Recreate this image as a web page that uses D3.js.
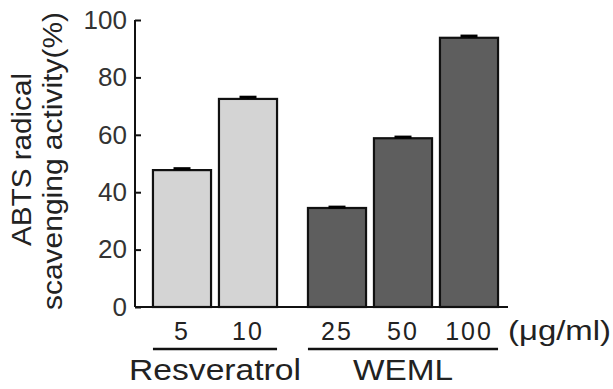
<!DOCTYPE html>
<html>
<head>
<meta charset="utf-8">
<script src="https://cdnjs.cloudflare.com/ajax/libs/d3/7.8.5/d3.min.js"></script>
<style>
body { margin: 0; background: #fff; }
text { font-family: "Liberation Sans", Arial, sans-serif; fill: #222; }
</style>
</head>
<body>
<script>
var w = 613, h = 389;

// data
var doses = ["5", "10", "25", "50", "100"];
var groups = ["Resveratrol", "Resveratrol", "WEML", "WEML", "WEML"];
var values = [47.7, 72.5, 34.5, 58.8, 93.8];
var errors = [0.5, 0.6, 0.3, 0.4, 0.6];
var yTicks = [0, 20, 40, 60, 80, 100];
var groupNames = ["Resveratrol", "WEML"];
var fills = { "Resveratrol": "#d4d4d4", "WEML": "#5e5e5e" };
var groupLen = { "Resveratrol": 172, "WEML": 100 };

var svg = d3.select("body").append("svg")
	.attr("width", w)
	.attr("height", h);

var y = d3.scaleLinear().domain([0, 100]).range([307, 20]);

var x = d3.scaleBand().domain(doses)
	.range([149, 479])
	.paddingInner(0.12).paddingOuter(0.06);
var groupGap = 23;

function bx(d, i) {
	return x(d) + (groups[i] == "WEML" ? groupGap : 0);
}

// bars
svg.append("g").selectAll("rect")
	.data(doses)
	.enter()
	.append("rect")
	.attr("x", function(d, i) { return bx(d, i); })
	.attr("y", function(d, i) { return y(values[i]); })
	.attr("width", x.bandwidth())
	.attr("height", function(d, i) { return y(0) - y(values[i]); })
	.style("fill", function(d, i) { return fills[groups[i]]; })
	.style("stroke", "#111")
	.style("stroke-width", 2.2);

// error bars
var eb = svg.append("g");
doses.forEach(function(d, i) {
	var cx = bx(d, i) + x.bandwidth() / 2;
	eb.append("line")
		.attr("x1", cx).attr("x2", cx)
		.attr("y1", y(values[i])).attr("y2", y(values[i] + errors[i]))
		.style("stroke", "#000").style("stroke-width", 2);
	eb.append("line")
		.attr("x1", cx - 8.5).attr("x2", cx + 8.5)
		.attr("y1", y(values[i] + errors[i])).attr("y2", y(values[i] + errors[i]))
		.style("stroke", "#000").style("stroke-width", 3);
});

// y axis
var yAxis = d3.axisLeft(y).tickValues(yTicks).tickSize(-6).tickPadding(14);
var gy = svg.append("g")
	.attr("transform", "translate(135,0)")
	.call(yAxis);
gy.select(".domain").attr("d", "M0," + y(100) + "V" + y(0)).style("stroke", "#111").style("stroke-width", 2);
gy.selectAll(".tick line").style("stroke", "#111").style("stroke-width", 2);
gy.selectAll(".tick text")
	.attr("x", -8)
	.style("font-size", "26px")
	.style("font-family", "Liberation Sans, Arial, sans-serif")
	.style("fill", "#333");

// x axis baseline
svg.append("line")
	.attr("x1", 135).attr("x2", 508)
	.attr("y1", y(0)).attr("y2", y(0))
	.style("stroke", "#111").style("stroke-width", 2);

// dose labels
svg.append("g").selectAll("text")
	.data(doses)
	.enter()
	.append("text")
	.attr("x", function(d, i) { return bx(d, i) + x.bandwidth() / 2; })
	.attr("y", 340)
	.attr("text-anchor", "middle")
	.style("font-size", "25px")
	.style("letter-spacing", "2px")
	.text(function(d) { return d; });

svg.append("text")
	.attr("x", 508).attr("y", 340)
	.attr("textLength", 103)
	.attr("lengthAdjust", "spacingAndGlyphs")
	.style("font-size", "27px")
	.text("(\u03bcg/ml)");

// group underlines and names
groupNames.forEach(function(g) {
	var idx = [];
	groups.forEach(function(gg, i) { if (gg == g) idx.push(i); });
	var x0 = bx(doses[idx[0]], idx[0]);
	var x1 = bx(doses[idx[idx.length - 1]], idx[idx.length - 1]) + x.bandwidth();
	svg.append("line")
		.attr("x1", x0).attr("x2", x1)
		.attr("y1", 349).attr("y2", 349)
		.style("stroke", "#111").style("stroke-width", 2.5);
	svg.append("text")
		.attr("x", (x0 + x1) / 2 - groupLen[g] / 2).attr("y", 380)
		.attr("textLength", groupLen[g])
		.attr("lengthAdjust", "spacingAndGlyphs")
		.style("font-size", "30px")
		.text(g);
});

// y axis title
var yt = svg.append("g").attr("transform", "translate(31,160) rotate(-90)");
yt.append("text")
	.attr("x", -86)
	.attr("textLength", 173)
	.attr("lengthAdjust", "spacingAndGlyphs")
	.style("font-size", "27px")
	.text("ABTS radical");
yt.append("text")
	.attr("x", -150).attr("y", 31)
	.attr("textLength", 298)
	.attr("lengthAdjust", "spacingAndGlyphs")
	.style("font-size", "27px")
	.text("scavenging activity(%)");
</script>
</body>
</html>
